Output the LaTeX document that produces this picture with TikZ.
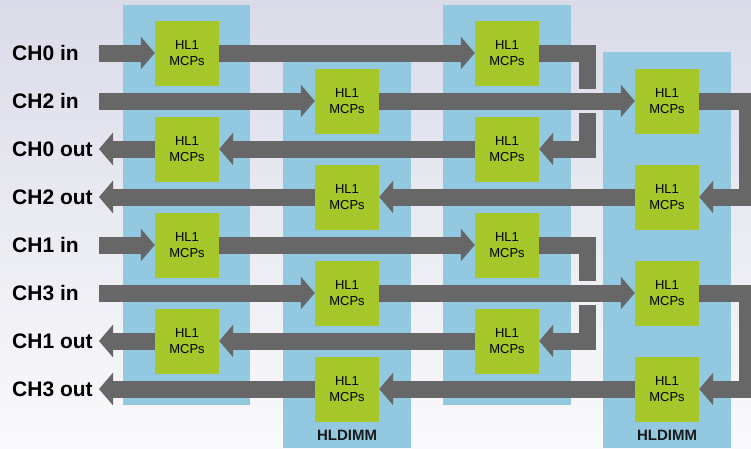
\documentclass[tikz,border=0pt]{standalone}
\usepackage{fontspec}
\setmainfont{Liberation Sans}
\usetikzlibrary{arrows.meta}

\definecolor{bgtop}{RGB}{218,219,232}
\definecolor{bgbot}{RGB}{250,250,252}
\definecolor{dimmblue}{RGB}{146,201,224}
\definecolor{mcpgreen}{RGB}{165,199,42}
\definecolor{bandgray}{RGB}{103,103,103}

\begin{document}
\begin{tikzpicture}[x=1pt, y=-1pt,
    mcp/.style={fill=mcpgreen, minimum width=64pt, minimum height=65pt, inner sep=0pt,
                align=center, font=\fontsize{13}{16}\selectfont},
    chlabel/.style={anchor=west, inner sep=0pt, font=\fontsize{21}{25}\selectfont\bfseries},
    dimmlabel/.style={font=\fontsize{15}{18}\selectfont\bfseries, text=black!90},
    band/.style={draw=bandgray, line width=17pt},
    tip/.style={band, -{Triangle[length=14pt, width=32pt]}}]

    % 背景
    \useasboundingbox (0,0) rectangle (751,448);
    \clip (0,0) rectangle (751,448);
    \shade[top color=bgtop, bottom color=bgbot] (0,0) rectangle (751,448);

    % HLDIMM 板
    \fill[dimmblue] (123,5) rectangle (250,405);
    \fill[dimmblue] (283,52) rectangle (411,448);
    \fill[dimmblue] (443,5) rectangle (571,405);
    \fill[dimmblue] (603,52) rectangle (731,448);
    \node[dimmlabel] (dimmB) at (347,435) {HLDIMM};
    \node[dimmlabel] (dimmD) at (667,435) {HLDIMM};

    % HL1 MCPs
    \node[mcp] (A0) at (187,53) {HL1\\MCPs};
    \node[mcp] (A1) at (187,149) {HL1\\MCPs};
    \node[mcp] (A2) at (187,245) {HL1\\MCPs};
    \node[mcp] (A3) at (187,341) {HL1\\MCPs};
    \node[mcp] (B0) at (347,101) {HL1\\MCPs};
    \node[mcp] (B1) at (347,197) {HL1\\MCPs};
    \node[mcp] (B2) at (347,293) {HL1\\MCPs};
    \node[mcp] (B3) at (347,389) {HL1\\MCPs};
    \node[mcp] (C0) at (507,53) {HL1\\MCPs};
    \node[mcp] (C1) at (507,149) {HL1\\MCPs};
    \node[mcp] (C2) at (507,245) {HL1\\MCPs};
    \node[mcp] (C3) at (507,341) {HL1\\MCPs};
    \node[mcp] (D0) at (667,101) {HL1\\MCPs};
    \node[mcp] (D1) at (667,197) {HL1\\MCPs};
    \node[mcp] (D2) at (667,293) {HL1\\MCPs};
    \node[mcp] (D3) at (667,389) {HL1\\MCPs};

    % 通道标签
    \node[chlabel] (ch0in) at (12,53) {CH0 in};
    \node[chlabel] (ch2in) at (12,101) {CH2 in};
    \node[chlabel] (ch0out) at (12,149) {CH0 out};
    \node[chlabel] (ch2out) at (12,197) {CH2 out};
    \node[chlabel] (ch1in) at (12,245) {CH1 in};
    \node[chlabel] (ch3in) at (12,293) {CH3 in};
    \node[chlabel] (ch1out) at (12,341) {CH1 out};
    \node[chlabel] (ch3out) at (12,389) {CH3 out};

    % 端点
    \coordinate (in0) at (99,53);
    \coordinate (in2) at (99,101);
    \coordinate (out0) at (99,149);
    \coordinate (out2) at (99,197);
    \coordinate (in1) at (99,245);
    \coordinate (in3) at (99,293);
    \coordinate (out1) at (99,341);
    \coordinate (out3) at (99,389);
    \coordinate (g0a) at (587.5,89);
    \coordinate (g0b) at (587.5,113);
    \coordinate (g1a) at (587.5,281);
    \coordinate (g1b) at (587.5,305);
    \coordinate (e0) at (747.5,101);
    \coordinate (e1) at (747.5,293);

    % CH0 / CH1 回路
    \draw[tip] (in0) -- (A0.west);
    \draw[tip] (A0.east) -- (C0.west);
    \draw[band] (C0.east) -| (g0a);
    \draw[tip] (g0b) |- (C1.east);
    \draw[tip] (C1.west) -- (A1.east);
    \draw[tip] (A1.west) -- (out0);

    \draw[tip] (in1) -- (A2.west);
    \draw[tip] (A2.east) -- (C2.west);
    \draw[band] (C2.east) -| (g1a);
    \draw[tip] (g1b) |- (C3.east);
    \draw[tip] (C3.west) -- (A3.east);
    \draw[tip] (A3.west) -- (out1);

    % CH2 / CH3 回路
    \draw[tip] (in2) -- (B0.west);
    \draw[tip] (B0.east) -- (D0.west);
    \draw[tip] (D0.east) -- (e0) |- (D1.east);
    \draw[tip] (D1.west) -- (B1.east);
    \draw[tip] (B1.west) -- (out2);

    \draw[tip] (in3) -- (B2.west);
    \draw[tip] (B2.east) -- (D2.west);
    \draw[tip] (D2.east) -- (e1) |- (D3.east);
    \draw[tip] (D3.west) -- (B3.east);
    \draw[tip] (B3.west) -- (out3);
\end{tikzpicture}
\end{document}
